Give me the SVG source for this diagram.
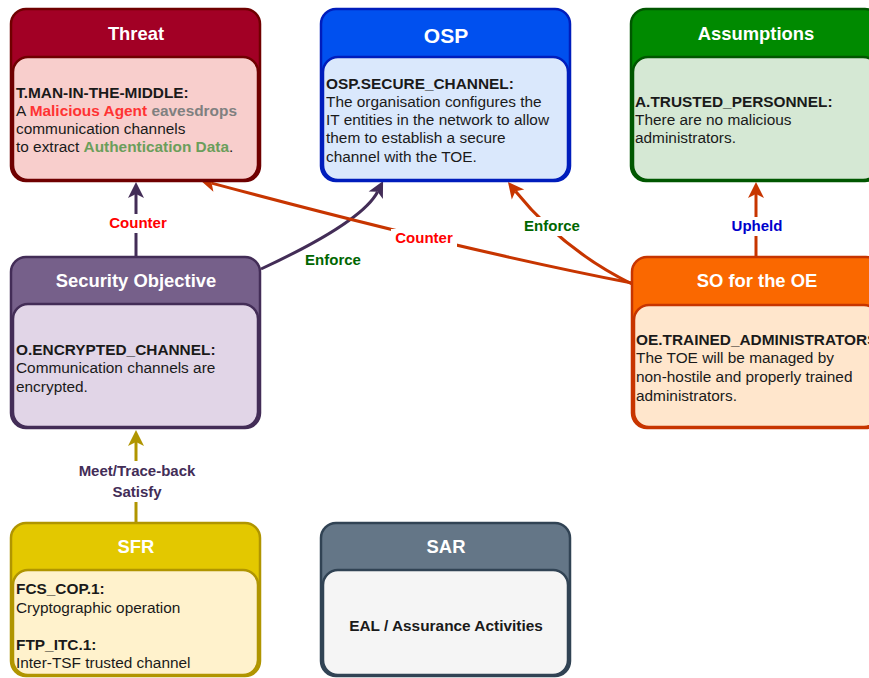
<svg xmlns="http://www.w3.org/2000/svg" width="869" height="678" viewBox="0 0 869 678">
<style>
text{font-family:"Liberation Sans",Arial,Helvetica,sans-serif}
.title{font-size:18.4px;font-weight:bold;fill:#ffffff;text-anchor:middle}
.body{font-size:15.4px;fill:#1a1a1a}
.b{font-weight:bold}
.lbl{font-size:15px;font-weight:bold;text-anchor:middle}
.edge{fill:none;stroke-width:3}
.bg{fill:#ffffff}
.box{stroke-width:2.5}
</style>
<defs>
<marker id="aPurple" markerUnits="userSpaceOnUse" markerWidth="17" markerHeight="17" refX="4" refY="8" orient="auto" overflow="visible"><path d="M0,0 L16,8 L0,16 L4,8 Z" fill="#432d57"/></marker>
<marker id="aOrange" markerUnits="userSpaceOnUse" markerWidth="17" markerHeight="17" refX="4" refY="8" orient="auto" overflow="visible"><path d="M0,0 L16,8 L0,16 L4,8 Z" fill="#c73500"/></marker>
<marker id="aOlive" markerUnits="userSpaceOnUse" markerWidth="17" markerHeight="17" refX="4" refY="8" orient="auto" overflow="visible"><path d="M0,0 L16,8 L0,16 L4,8 Z" fill="#b09500"/></marker>
</defs>
<rect width="869" height="678" fill="#ffffff"/>

<g id="connectors">
<path class="edge" d="M136,257 L136,194" stroke="#432d57" marker-end="url(#aPurple)"/>
<path class="edge" d="M261,269 Q362,222 377.6,191.7" stroke="#432d57" marker-end="url(#aPurple)"/>
<path class="edge" d="M632,283 Q461,250 211.6,183.1" stroke="#c73500" marker-end="url(#aOrange)"/>
<path class="edge" d="M632,284 Q563,250 515.5,191.3" stroke="#c73500" marker-end="url(#aOrange)"/>
<path class="edge" d="M756,257 L756,194" stroke="#c73500" marker-end="url(#aOrange)"/>
<path class="edge" d="M136,523 L136,442" stroke="#b09500" marker-end="url(#aOlive)"/>
<rect class="bg" x="105" y="214" width="66" height="19"/>
<text class="lbl" x="138" y="228" fill="#ff0000">Counter</text>
<rect class="bg" x="391" y="229" width="66" height="19"/>
<text class="lbl" x="424" y="243" fill="#ff0000">Counter</text>
<text class="lbl" x="333" y="265" fill="#006600">Enforce</text>
<rect class="bg" x="521" y="217" width="62" height="19"/>
<text class="lbl" x="552" y="231" fill="#006600">Enforce</text>
<rect class="bg" x="727" y="217" width="58" height="19"/>
<text class="lbl" x="757" y="231" fill="#0000cc">Upheld</text>
<rect class="bg" x="74" y="461" width="126" height="41"/>
<text class="lbl" x="137" y="476" fill="#432d57">Meet/Trace-back</text>
<text class="lbl" x="137" y="497" fill="#432d57">Satisfy</text>
</g>

<g id="threat">
<rect class="box" x="11" y="9" width="249" height="172" rx="15" fill="#a20025" stroke="#6f0000"/>
<rect class="box" x="13" y="57" width="245" height="123" rx="15" fill="#f8cecc" stroke="#6f0000"/>
<text class="title" x="136" y="40">Threat</text>
<text class="body" x="16" y="97.5"><tspan class="b">T.MAN-IN-THE-MIDDLE:</tspan></text>
<text class="body" x="16" y="115.5">A <tspan class="b" fill="#ff3333">Malicious Agent</tspan> <tspan class="b" fill="#808080">eavesdrops</tspan></text>
<text class="body" x="16" y="134">communication channels</text>
<text class="body" x="16" y="152">to extract <tspan class="b" fill="#6b9e5b">Authentication Data</tspan>.</text>
</g>

<g id="osp">
<rect class="box" x="321" y="9" width="249" height="172" rx="15" fill="#0050ef" stroke="#001dbc"/>
<rect class="box" x="323" y="57" width="245" height="123" rx="15" fill="#dae8fc" stroke="#001dbc"/>
<text class="title" x="446" y="42.5" style="font-size:21px">OSP</text>
<text class="body" x="326" y="88.5"><tspan class="b">OSP.SECURE_CHANNEL:</tspan></text>
<text class="body" x="326" y="106.5">The organisation configures the</text>
<text class="body" x="326" y="125">IT entities in the network to allow</text>
<text class="body" x="326" y="143">them to establish a secure</text>
<text class="body" x="326" y="162">channel with the TOE.</text>
</g>

<g id="assumptions">
<rect class="box" x="631" y="9" width="249" height="172" rx="15" fill="#008a00" stroke="#005700"/>
<rect class="box" x="633" y="57" width="245" height="123" rx="15" fill="#d5e8d4" stroke="#005700"/>
<text class="title" x="756" y="40">Assumptions</text>
<text class="body" x="635" y="107"><tspan class="b">A.TRUSTED_PERSONNEL:</tspan></text>
<text class="body" x="635" y="125">There are no malicious</text>
<text class="body" x="635" y="143">administrators.</text>
</g>

<g id="security-objective">
<rect class="box" x="11" y="257" width="249" height="171" rx="15" fill="#76608a" stroke="#432d57"/>
<rect class="box" x="13" y="304" width="245" height="123" rx="15" fill="#e1d5e7" stroke="#432d57"/>
<text class="title" x="136" y="287">Security Objective</text>
<text class="body" x="16" y="354.5"><tspan class="b">O.ENCRYPTED_CHANNEL:</tspan></text>
<text class="body" x="16" y="373">Communication channels are</text>
<text class="body" x="16" y="391.5">encrypted.</text>
</g>

<g id="so-oe">
<rect class="box" x="632" y="257" width="249" height="171" rx="15" fill="#fa6800" stroke="#c73500"/>
<rect class="box" x="634" y="305" width="245" height="122" rx="15" fill="#ffe6cc" stroke="#c73500"/>
<text class="title" x="757" y="287">SO for the OE</text>
<text class="body" x="636" y="344.5"><tspan class="b">OE.TRAINED_ADMINISTRATORS:</tspan></text>
<text class="body" x="636" y="363">The TOE will be managed by</text>
<text class="body" x="636" y="382">non-hostile and properly trained</text>
<text class="body" x="636" y="400.5">administrators.</text>
</g>

<g id="sfr">
<rect class="box" x="11" y="523" width="249" height="153" rx="15" fill="#e3c800" stroke="#b09500"/>
<rect class="box" x="13" y="570" width="245" height="105" rx="15" fill="#fff2cc" stroke="#b09500"/>
<text class="title" x="136" y="553">SFR</text>
<text class="body" x="16" y="594"><tspan class="b">FCS_COP.1:</tspan></text>
<text class="body" x="16" y="612.5">Cryptographic operation</text>
<text class="body" x="16" y="650"><tspan class="b">FTP_ITC.1:</tspan></text>
<text class="body" x="16" y="668">Inter-TSF trusted channel</text>
</g>

<g id="sar">
<rect class="box" x="321" y="523" width="249" height="153" rx="15" fill="#647687" stroke="#314354"/>
<rect class="box" x="323" y="570" width="245" height="105" rx="15" fill="#f5f5f5" stroke="#314354"/>
<text class="title" x="446" y="553">SAR</text>
<text class="body b" x="446" y="631" text-anchor="middle">EAL / Assurance Activities</text>
</g>
</svg>
